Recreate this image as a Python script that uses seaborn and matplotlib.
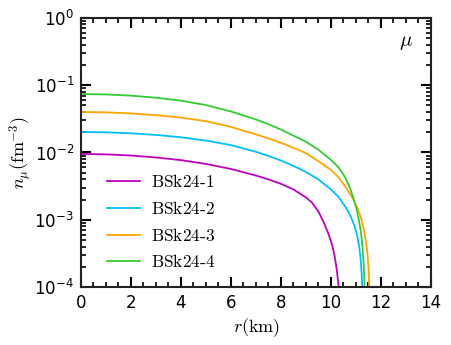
import numpy as np
import pandas as pd
import matplotlib
matplotlib.use("Agg")
import matplotlib.pyplot as plt
from matplotlib.ticker import MultipleLocator, LogLocator
import seaborn as sns

plt.rcParams['font.family'] = ['DejaVu Sans']
plt.rcParams['mathtext.fontset'] = 'cm'
plt.rcParams['xtick.direction'] = 'in'
plt.rcParams['ytick.direction'] = 'in'
plt.rcParams['xtick.top'] = True
plt.rcParams['ytick.right'] = True
plt.rcParams['xtick.major.size'] = 7
plt.rcParams['ytick.major.size'] = 7
plt.rcParams['xtick.minor.size'] = 3.5
plt.rcParams['ytick.minor.size'] = 3.5
plt.rcParams['xtick.major.width'] = 1.5
plt.rcParams['ytick.major.width'] = 1.5
plt.rcParams['xtick.minor.width'] = 1.2
plt.rcParams['ytick.minor.width'] = 1.2

# muon number density profiles (r in km, n in fm^-3)
r_1 = [0, 1, 2, 3, 4, 5, 6, 7, 7.5, 8, 8.5, 9, 9.25, 9.5, 9.7, 9.9, 10.05, 10.15,
       10.23, 10.28, 10.31]
n_1 = [0.00951, 0.00938, 0.00902, 0.00843, 0.00769, 0.00676, 0.00569, 0.00454,
       0.00398, 0.00342, 0.00282, 0.00215, 0.00178, 0.00132, 0.000933, 0.000617,
       0.000417, 0.000282, 0.000182, 0.000126, 0.0000955]

r_2 = [0, 1, 2, 3, 4, 5, 6, 7, 7.5, 8, 8.5, 9, 9.5, 10, 10.3, 10.6, 10.8, 10.95,
       11.05, 11.13, 11.19, 11.23, 11.25]
n_2 = [0.02018, 0.01995, 0.01928, 0.01824, 0.01683, 0.01503, 0.01288, 0.01023,
       0.00891, 0.00759, 0.00631, 0.00513, 0.00398, 0.00282, 0.00219, 0.00151,
       0.00110, 0.000794, 0.000575, 0.000398, 0.000251, 0.000151, 0.0001]

r_3 = [0, 1, 2, 3, 4, 5, 6, 7, 7.5, 8, 8.5, 9, 9.5, 10, 10.3, 10.6, 10.85, 11.05,
       11.2, 11.32, 11.41, 11.47, 11.51, 11.53]
n_3 = [0.0400, 0.0395, 0.0381, 0.0359, 0.0330, 0.0292, 0.0240, 0.0186, 0.0162,
       0.01396, 0.01175, 0.00977, 0.00741, 0.00550, 0.00427, 0.00302, 0.00214,
       0.00151, 0.00107, 0.000708, 0.000447, 0.000282, 0.000170, 0.0001]

r_4 = [0, 1, 2, 3, 4, 5, 6, 7, 7.5, 8, 8.5, 9, 9.5, 10, 10.3, 10.55, 10.75, 10.9,
       11.02, 11.12, 11.2, 11.26, 11.3, 11.33, 11.34]
n_4 = [0.0740, 0.0729, 0.0700, 0.0652, 0.0590, 0.0507, 0.0407, 0.0309, 0.0263,
       0.0219, 0.0178, 0.01445, 0.01096, 0.00776, 0.00603, 0.00437, 0.00302, 0.00209,
       0.00145, 0.000977, 0.000646, 0.000398, 0.000240, 0.000141, 0.0001]

models = ["BSk24-1", "BSk24-2", "BSk24-3", "BSk24-4"]
colors = ["#c000c0", "#00bfff", "#ffa500", "#32cd32"]

frames = []
for name, r, n in zip(models, [r_1, r_2, r_3, r_4], [n_1, n_2, n_3, n_4]):
    frames.append(pd.DataFrame({"r": r, "n": n, "model": name}))
df = pd.concat(frames, ignore_index=True)

fig = plt.figure(figsize=(4.51, 3.45), dpi=100)
ax = fig.add_axes([0.1796, 0.168, 0.776, 0.780])

for name, col in zip(models, colors):
    sub = df[df["model"] == name]
    sns.lineplot(data=sub, x="r", y="n", color=col, lw=1.3, ax=ax,
                 label=r"$\mathrm{%s}\text{-}\mathrm{%s}$" % tuple(name.split("-")),
                 estimator=None, sort=False)

ax.set_yscale("log")
ax.set_xlim(0, 14)
ax.set_ylim(1e-4, 1)
ax.xaxis.set_major_locator(MultipleLocator(2))
ax.xaxis.set_minor_locator(MultipleLocator(0.5))
ax.yaxis.set_major_locator(LogLocator(base=10, numticks=10))
ax.yaxis.set_minor_locator(LogLocator(base=10, subs=np.arange(2, 10), numticks=10))
ax.tick_params(which="both", direction="in", top=True, right=True, labelsize=12,
               color="black", labelcolor="black")
ax.tick_params(which="major", pad=5)
for s in ax.spines.values():
    s.set_linewidth(1.5)
    s.set_color("#222222")

ax.set_xlabel(r"$r(\mathrm{km})$", fontsize=13, labelpad=3)
ax.set_ylabel(r"$n_\mu(\mathrm{fm}^{-3})$", fontsize=13, labelpad=0)
ax.text(0.93, 0.91, r"$\mu$", transform=ax.transAxes, fontsize=15, ha="center", va="center")

ax.legend(loc="lower left", bbox_to_anchor=(0.03, 0.0), frameon=False, fontsize=12.5,
          handlelength=1.9, handletextpad=0.6, labelspacing=0.5)

fig.savefig("out.png", dpi=100)
